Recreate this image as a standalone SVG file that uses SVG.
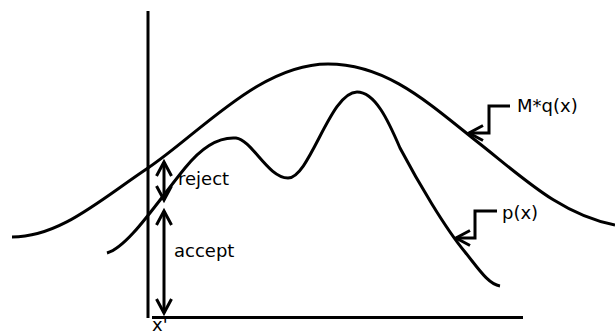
<svg xmlns="http://www.w3.org/2000/svg" width="615" height="335" viewBox="0 0 615 335">
<style>
.ln{fill:none;stroke:#000;stroke-width:3}
.lbl{font-family:"DejaVu Sans",sans-serif;font-size:18px;fill:#000}
</style>
<defs>
<marker id="v" markerUnits="userSpaceOnUse" markerWidth="20" markerHeight="20" refX="0" refY="0" orient="auto-start-reverse" overflow="visible">
<path d="M-14,-7.5 L0,0 L-14,7.5" fill="none" stroke="#000" stroke-width="3"/>
</marker>
</defs>
<rect width="615" height="335" fill="#fff"/>
<g id="axes">
<line class="ln" x1="148" y1="11" x2="148" y2="318"/>
<line class="ln" x1="152" y1="317.5" x2="523" y2="317.5"/>
</g>
<g id="mq">
<path class="ln" d="M12,237 C60,237 100,200 148,168 C200,133 260,64 328,64 C385,64 425,100 475,140 C520,175 560,215 615,225"/>
</g>
<g id="px">
<path class="ln" d="M107,253 C128,247 155,205 185,168 C205,143 222,137 236,138 C252,140 268,178 288,178 C310,178 330,92 357,92 C375,92 388,120 400,148 C418,182 445,228 465,252 C478,268 488,284 500,286"/>
</g>
<g id="connectors">
<path class="ln" d="M164,162 L164,200" marker-start="url(#v)" marker-end="url(#v)"/>
<path class="ln" d="M164,211 L164,313" marker-start="url(#v)" marker-end="url(#v)"/>
<path class="ln" d="M510,106 L489,106 L489,133 L469,133" marker-end="url(#v)"/>
<path class="ln" d="M497,211 L475,211 L475,238 L456,238" marker-end="url(#v)"/>
</g>
<g id="labels">
<text class="lbl" x="178" y="185">reject</text>
<text class="lbl" x="174" y="257">accept</text>
<text class="lbl" x="152" y="331">x'</text>
<text class="lbl" x="517" y="112">M*q(x)</text>
<text class="lbl" x="502" y="219">p(x)</text>
</g>
</svg>
